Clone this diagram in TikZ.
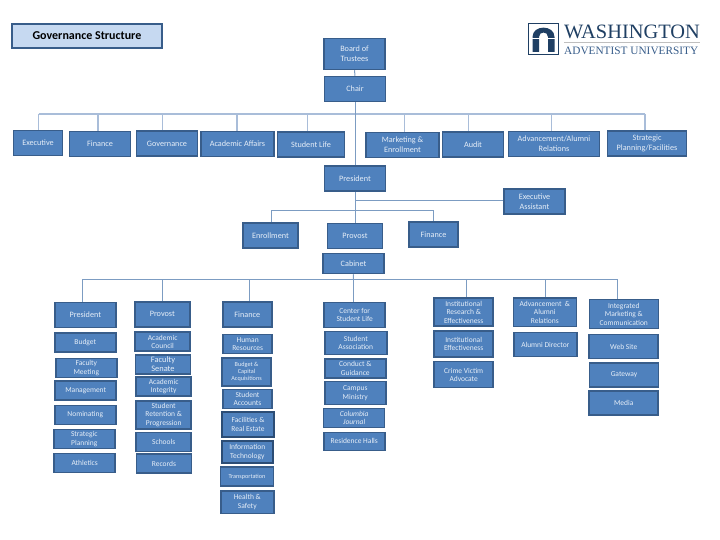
\documentclass[tikz,border=0pt]{standalone}
\usepackage{fontspec}
\setmainfont{Carlito}
\newfontfamily\logofont{Liberation Serif}
\usetikzlibrary{positioning}

\definecolor{BoxFill}{HTML}{4F81BD}
\definecolor{BoxEdge}{HTML}{385D8A}
\definecolor{BoxDark}{HTML}{2C4D75}
\definecolor{BoxText}{HTML}{E6EEF8}
\definecolor{TitleFill}{HTML}{C6D9F1}
\definecolor{BusTop}{HTML}{A9BDD9}
\definecolor{BusLow}{HTML}{7C9CC2}
\definecolor{Navy}{HTML}{1F3F63}

\begin{document}
\begin{tikzpicture}[x=1pt, y=-1pt]
		\tikzstyle{Unit}	= [rectangle, draw=BoxEdge, line width=1.5pt, fill=BoxFill, text=BoxText, align=center, inner sep=0pt, font=\fontsize{8.2}{10}\selectfont]
		\tikzstyle{Small}	= [font=\fontsize{7.5}{8.5}\selectfont]
		\tikzstyle{Tiny}	= [font=\fontsize{6.2}{7.2}\selectfont]
		\tikzstyle{Heavy}	= [draw=BoxDark, line width=2pt]
		\tikzstyle{TopBus}	= [BusTop, line width=1.3pt]
		\tikzstyle{LowBus}	= [BusLow, line width=1pt]
		\tikzstyle{Title}	= [rectangle, draw=BoxEdge, line width=1.5pt, fill=TitleFill, text=black, inner sep=0pt, minimum width=150pt, minimum height=24pt, font=\fontsize{12}{13}\selectfont\bfseries]
		\tikzstyle{Logo}	= [inner sep=0pt, anchor=west, text=Navy]

		\useasboundingbox (0, 0) rectangle (720, 540);

		% heading and logo
		\node (title) at (87, 36) [Title] {Governance Structure};
		\node (logoFrame) at (543.5, 39) [rectangle, draw=Navy, line width=0.9pt, minimum width=30pt, minimum height=31pt, inner sep=0pt] {};
		\fill[Navy, even odd rule] (532.5, 52) -- (532.5, 37) .. controls (532.5, 24.5) and (554.5, 24.5) .. (554.5, 37) -- (554.5, 52) -- (548, 52) -- (548, 37) .. controls (548, 31) and (539, 31) .. (539, 37) -- (539, 52) -- cycle;
		\fill[white] (530.5, 38.3) rectangle (556.5, 39.3);
		\node (logoTop) at (564, 32) [Logo] {\logofont\fontsize{20.4}{21}\selectfont WASHINGTON};
		\node (logoLow) at (564, 50.5) [Logo, text=BoxEdge] {\logofont\fontsize{11.3}{12}\selectfont ADVENTIST UNIVERSITY};
		\fill[gray!50] (logoLow.west |- 0, 42.3) rectangle (699.5, 43.5);

		% board
		\node (board) at (354.5, 54) [Unit][minimum width=61pt, minimum height=31pt] {Board of\\Trustees};
		\node (chair) at (355, 89) [Unit][minimum width=61pt, minimum height=25pt] {Chair};
		\node (execC) at (38, 143) [Unit][minimum width=49pt, minimum height=25pt] {Executive};
		\node (finC) at (100, 144) [Unit][minimum width=61pt, minimum height=25pt] {Finance};
		\node (govC) at (167, 143.5) [Unit][minimum width=61pt, minimum height=25pt] {Governance};
		\node (acadC) at (237.5, 144) [Unit][minimum width=73pt, minimum height=25pt] {Academic Affairs};
		\node (lifeC) at (311, 144.5) [Unit][minimum width=67pt, minimum height=25pt] {Student Life};
		\node (markC) at (402.5, 145) [Unit][minimum width=73pt, minimum height=25pt] {Marketing \&\\Enrollment};
		\node (auditC) at (473, 144.5) [Unit][minimum width=61pt, minimum height=25pt] {Audit};
		\node (advC) at (554, 144) [Unit][minimum width=91pt, minimum height=25pt] {Advancement/Alumni\\Relations};
		\node (stratC) at (647, 143.5) [Unit][minimum width=79pt, minimum height=25pt] {Strategic\\Planning/Facilities};

		% president and cabinet
		\node (pres) at (355, 178.5) [Unit][minimum width=61pt, minimum height=25pt] {President};
		\node (assist) at (534.5, 201.5) [Unit][minimum width=61pt, minimum height=25pt] {Executive\\Assistant};
		\node (enroll) at (270.5, 235.5) [Unit][minimum width=55pt, minimum height=25pt] {Enrollment};
		\node (prov) at (355, 236) [Unit][minimum width=55pt, minimum height=25pt] {Provost};
		\node (fin) at (433.5, 234.5) [Unit][minimum width=49pt, minimum height=25pt] {Finance};
		\node (cab) at (353.5, 263.5) [Unit][minimum width=61pt, minimum height=20pt] {Cabinet};

		% president column
		\node (p0) at (85.3, 315) [Unit][minimum width=61pt, minimum height=25pt] {President};
		\node (p1) at (85.3, 342.5) [Unit][minimum width=61pt, minimum height=19pt, Small] {Budget};
		\node (p2) at (86.3, 368) [Unit][minimum width=61pt, minimum height=19pt, Small] {Faculty\\Meeting};
		\node (p3) at (85.7, 390.3) [Unit][minimum width=61pt, minimum height=19pt, Small] {Management};
		\node (p4) at (85.3, 415) [Unit][minimum width=61pt, minimum height=19pt, Small] {Nominating};
		\node (p5) at (84.3, 439) [Unit][minimum width=61pt, minimum height=19pt, Small] {Strategic\\Planning};
		\node (p6) at (84.7, 463) [Unit][minimum width=61pt, minimum height=19pt, Small] {Athletics};

		% provost column
		\node (q0) at (162.3, 314.3) [Unit][minimum width=55pt, minimum height=25pt] {Provost};
		\node (q1) at (162.7, 341.7) [Unit][minimum width=55pt, minimum height=19pt, Small] {Academic\\Council};
		\node (q2) at (163, 364.5) [Unit][minimum width=55pt, minimum height=19pt, font=\fontsize{8.4}{9.2}\selectfont] {Faculty\\Senate};
		\node (q3) at (163.7, 386.5) [Unit][minimum width=55pt, minimum height=19pt, Small] {Academic\\Integrity};
		\node (q4) at (163.7, 415) [Unit][minimum width=55pt, minimum height=28pt, Small] {Student\\Retention \&\\Progression};
		\node (q5) at (163.7, 442) [Unit][minimum width=55pt, minimum height=19pt, Small] {Schools};
		\node (q6) at (164, 463.7) [Unit][minimum width=55pt, minimum height=19pt, Small] {Records};

		% finance column
		\node (f0) at (247.3, 314.5) [Unit][minimum width=49pt, minimum height=25pt] {Finance};
		\node (f1) at (247.7, 344) [Unit][minimum width=49pt, minimum height=19pt, Small] {Human\\Resources};
		\node (f2) at (246.5, 372) [Unit][minimum width=49pt, minimum height=28pt, Tiny] {Budget \&\\Capital\\Acquisitions};
		\node (f3) at (247.5, 399) [Unit][minimum width=49pt, minimum height=19pt, Small] {Student\\Accounts};
		\node (f4) at (248, 424.5) [Unit][Heavy][minimum width=52pt, minimum height=25pt, Small] {Facilities \&\\Real Estate};
		\node (f5) at (247.3, 452) [Unit][Heavy][minimum width=51pt, minimum height=22pt, Small] {Information\\Technology};
		\node (f6) at (247, 476.5) [Unit][minimum width=53pt, minimum height=19pt, Tiny] {Transportation};
		\node (f7) at (247.3, 502) [Unit][minimum width=53pt, minimum height=22.5pt, Small] {Health \&\\Safety};

		% student life column
		\node (s0) at (354.7, 315) [Unit][minimum width=61pt, minimum height=25pt, Small] {Center for\\Student Life};
		\node (s1) at (355.8, 343) [Unit][minimum width=62pt, minimum height=23pt, Small] {Student\\Association};
		\node (s2) at (355.3, 368.3) [Unit][minimum width=61pt, minimum height=19pt, Small] {Conduct \&\\Guidance};
		\node (s3) at (355.3, 393) [Unit][minimum width=61pt, minimum height=23pt, Small] {Campus\\Ministry};
		\node (s4) at (354.2, 418) [Unit][minimum width=61pt, minimum height=19pt, font=\fontsize{7.5}{8.5}\selectfont\itshape] {Columbia\\Journal};
		\node (s5) at (354.3, 441.3) [Unit][minimum width=61pt, minimum height=18pt, Small] {Residence Halls};

		% research column
		\node (r0) at (463.7, 312) [Unit][minimum width=59pt, minimum height=28pt, Small] {Institutional\\Research \&\\Effectiveness};
		\node (r1) at (463.7, 344) [Unit][minimum width=59pt, minimum height=26pt, Small] {Institutional\\Effectiveness};
		\node (r2) at (463.7, 374.7) [Unit][minimum width=59pt, minimum height=26pt, Small] {Crime Victim\\Advocate};

		% advancement column
		\node (a0) at (544.8, 312) [Unit][minimum width=63pt, minimum height=28.5pt, Small] {Advancement~~\&\\Alumni\\Relations};
		\node (a1) at (545.3, 344.5) [Unit][minimum width=63pt, minimum height=24pt, Small] {Alumni Director};

		% marketing column
		\node (m0) at (623.8, 314) [Unit][minimum width=69pt, minimum height=29pt, Small] {Integrated\\Marketing \&\\Communication};
		\node (m1) at (623.7, 346.7) [Unit][minimum width=69pt, minimum height=24pt, Small] {Web Site};
		\node (m2) at (624, 375) [Unit][minimum width=69pt, minimum height=24pt, Small] {Gateway};
		\node (m3) at (623.7, 403) [Unit][minimum width=69pt, minimum height=24pt, Small] {Media};

		% top bus
		\coordinate (t1) at (38.7, 114);
		\coordinate (t2) at (98, 114);
		\coordinate (t3) at (162.5, 114);
		\coordinate (t4) at (237, 114);
		\coordinate (t5) at (307.5, 114);
		\coordinate (t6) at (404.7, 114);
		\coordinate (t7) at (468.3, 114);
		\coordinate (t8) at (551.3, 114);
		\coordinate (t9) at (645, 114);
		\draw[TopBus] (t1) -- (t9);
		\draw[TopBus] (t1) -- (t1 |- execC.north);
		\draw[TopBus] (t2) -- (t2 |- finC.north);
		\draw[TopBus] (t3) -- (t3 |- govC.north);
		\draw[TopBus] (t4) -- (t4 |- acadC.north);
		\draw[TopBus] (t5) -- (t5 |- lifeC.north);
		\draw[TopBus] (t6) -- (t6 |- markC.north);
		\draw[TopBus] (t7) -- (t7 |- auditC.north);
		\draw[TopBus] (t8) -- (t8 |- advC.north);
		\draw[TopBus] (t9) -- (t9 |- stratC.north);

		% spine
		\draw[LowBus] (board.south) -- (chair.north);
		\draw[LowBus] (chair.south) -- (pres.north);
		\draw[LowBus] (pres.south) -- (prov.north);
		\coordinate (e0) at (355, 200.7);
		\draw[LowBus] (e0) -- (assist.west |- e0);
		\coordinate (b1) at (271.7, 210.7);
		\coordinate (b2) at (433.3, 210.7);
		\draw[LowBus] (b1 |- enroll.north) -- (b1) -- (b2) -- (b2 |- fin.north);

		% lower bus
		\coordinate (c1) at (82.7, 279.3);
		\coordinate (c2) at (162.3, 279.3);
		\coordinate (c3) at (249, 279.3);
		\coordinate (c4) at (353.3, 279.3);
		\coordinate (c5) at (466.3, 279.3);
		\coordinate (c6) at (545.7, 279.3);
		\coordinate (c7) at (617.7, 279.3);
		\draw[LowBus] (c1) -- (c7);
		\draw[LowBus] (cab.south) -- (c4);
		\draw[LowBus] (c1) -- (c1 |- p0.north);
		\draw[LowBus] (c2) -- (c2 |- q0.north);
		\draw[LowBus] (c3) -- (c3 |- f0.north);
		\draw[LowBus] (c4) -- (c4 |- s0.north);
		\draw[LowBus] (c5) -- (c5 |- r0.north);
		\draw[LowBus] (c6) -- (c6 |- a0.north);
		\draw[LowBus] (c7) -- (c7 |- m0.north);
	\end{tikzpicture}
\end{document}
